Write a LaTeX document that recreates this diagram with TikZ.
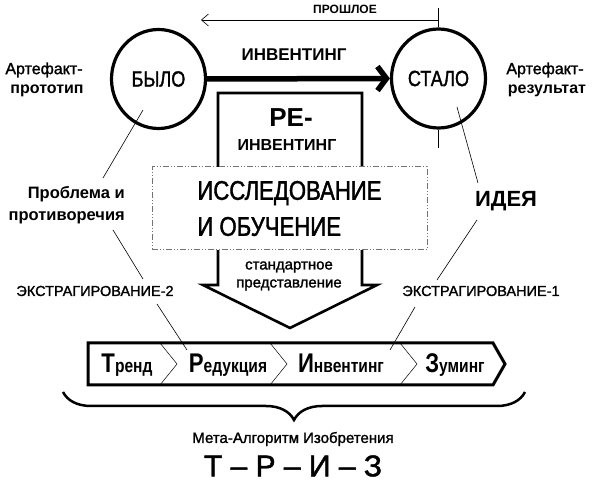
\documentclass[tikz,border=0pt]{standalone}
\usepackage{fontspec}
\setmainfont{Liberation Sans}
\newfontfamily\med{Liberation Sans}[FakeBold=1.5]
\newfontfamily\cond{Liberation Sans}[FakeStretch=0.82,FakeBold=1.5]
\newfontfamily\condb{Liberation Sans}[FakeStretch=0.82]
\usetikzlibrary{arrows.meta,decorations.pathreplacing,shapes.geometric}
\begin{document}
\begin{tikzpicture}[x=1pt,y=-1pt,
  circ/.style={ellipse,draw,line width=3.2pt,minimum width=94pt,minimum height=99pt,inner sep=0pt,font=\cond\fontsize{22}{24}\selectfont},
  thinline/.style={line width=0.6pt},
  txt/.style={inner sep=0pt,align=center},
  chev/.style={line width=0.5pt},
  ctext/.style={inner sep=0pt,anchor=base,font=\condb\bfseries\fontsize{19}{20}\selectfont},
  ]
\useasboundingbox (0,0) rectangle (595,486);

% circles
\node[circ] (byl) at (158.5,79) {БЫЛО};
\node[circ] (stal) at (438.5,78.5) {СТАЛО};

% past arrow
\node[txt,font=\bfseries\fontsize{12}{14}\selectfont] (past) at (345,9) {ПРОШЛОЕ};
\coordinate (pastR) at (438.5,20);
\coordinate (pastL) at (201,20);
\coordinate (tickT) at (438.5,8);
\coordinate (tickB) at (438.5,148);
\draw[thinline,-{Straight Barb[length=7pt,width=12pt]}] (pastR) -- (pastL);
\draw[thinline] (tickT) -- (stal.north);
\draw[thinline] (stal.south) -- (tickB);

% inventing arrow
\draw[line width=5.5pt,-{Straight Barb[length=9pt,width=24pt]}] (byl.east) -- (stal.west);
\node[txt,font=\bfseries\fontsize{17}{20}\selectfont] (inv) at (294,55) {ИНВЕНТИНГ};

% artefacts
\node[txt,font=\med\fontsize{16}{20}\selectfont] (art1) at (44,70) {Артефакт-};
\node[txt,font=\bfseries\fontsize{16}{20}\selectfont] (proto) at (47,91) {прототип};
\node[txt,font=\med\fontsize{16}{20}\selectfont] (art2) at (545,70) {Артефакт-};
\node[txt,font=\bfseries\fontsize{16}{20}\selectfont] (resu) at (547,91) {результат};

% down arrow
\draw[line width=2.6pt,fill=white,line join=miter]
  (218,93) -- (362,93) -- (362,285) -- (377,285) -- (290,328) -- (203,285) -- (218,285) -- cycle;
\node[txt,font=\bfseries\fontsize{26}{26}\selectfont] (re) at (291,118) {РЕ-};
\node[txt,font=\bfseries\fontsize{16}{20}\selectfont] (reinv) at (287,145) {ИНВЕНТИНГ};

% research box
\node[draw=black!55,dash pattern=on 6pt off 2pt on 1pt off 2pt on 1pt off 2pt,line width=1pt,fill=white,minimum width=275pt,minimum height=83pt,inner sep=0pt] (res) at (289.5,208.5) {};
\node[inner sep=0pt,align=left,font=\cond\fontsize{27}{36}\selectfont] (restext) at (res.center) {ИССЛЕДОВАНИЕ\\И ОБУЧЕНИЕ};

\node[txt,font=\med\fontsize{15}{18}\selectfont] (std) at (289,276) {стандартное\\представление};

% side labels
\node[inner sep=0pt,align=right,anchor=east,font=\bfseries\fontsize{16.5}{22}\selectfont] (prob) at (125,205) {Проблема и\\противоречия};
\node[txt,font=\med\fontsize{14.5}{16}\selectfont] (ex2) at (95,291) {ЭКСТРАГИРОВАНИЕ-2};
\node[txt,font=\bfseries\fontsize{22}{24}\selectfont] (idea) at (506,201) {ИДЕЯ};
\node[txt,font=\med\fontsize{14.5}{16}\selectfont] (ex1) at (481,291) {ЭКСТРАГИРОВАНИЕ-1};

% chevron bar
\draw[line width=3pt,fill=white,line join=miter]
  (88,343) -- (493,343) -- (505,364) -- (493,385) -- (88,385) -- cycle;
\draw[chev] (160,343) -- (177,364) -- (160,385);
\draw[chev] (270,343) -- (287,364) -- (270,385);
\draw[chev] (400,343) -- (417,364) -- (400,385);
\node[ctext] (trend) at (127,373) {{\fontsize{27}{27}\selectfont Т}ренд};
\node[ctext] (red) at (228,373) {{\fontsize{27}{27}\selectfont Р}едукция};
\node[ctext] (invc) at (341,373) {{\fontsize{27}{27}\selectfont И}нвентинг};
\node[ctext] (zum) at (455,373) {{\fontsize{27}{27}\selectfont З}уминг};

% connectors
\coordinate (a1) at (143,110); \coordinate (a2) at (103,178);
\coordinate (a3) at (113,230); \coordinate (a4) at (143,279);
\coordinate (a5) at (157,304); \coordinate (a6) at (187,350);
\coordinate (b1) at (457,107); \coordinate (b2) at (478,183);
\coordinate (b3) at (477,220); \coordinate (b4) at (437,280);
\coordinate (b5) at (415,307); \coordinate (b6) at (390,350);
\draw[thinline] (a1) -- (a2);
\draw[thinline] (a3) -- (a4);
\draw[thinline] (a5) -- (a6);
\draw[thinline] (b1) -- (b2);
\draw[thinline] (b3) -- (b4);
\draw[thinline] (b5) -- (b6);

% brace
\coordinate (brL) at (63,392); \coordinate (brR) at (525,392);
\draw[line width=2.5pt,decorate,decoration={brace,mirror,amplitude=28pt}] (brL) -- (brR);

\node[txt,font=\med\fontsize{15}{18}\selectfont] (meta) at (293,439) {Мета-Алгоритм Изобретения};
\node[txt,font=\med\fontsize{30}{32}\selectfont] (triz) at (293,466) {Т – Р – И – З};
\end{tikzpicture}
\end{document}
